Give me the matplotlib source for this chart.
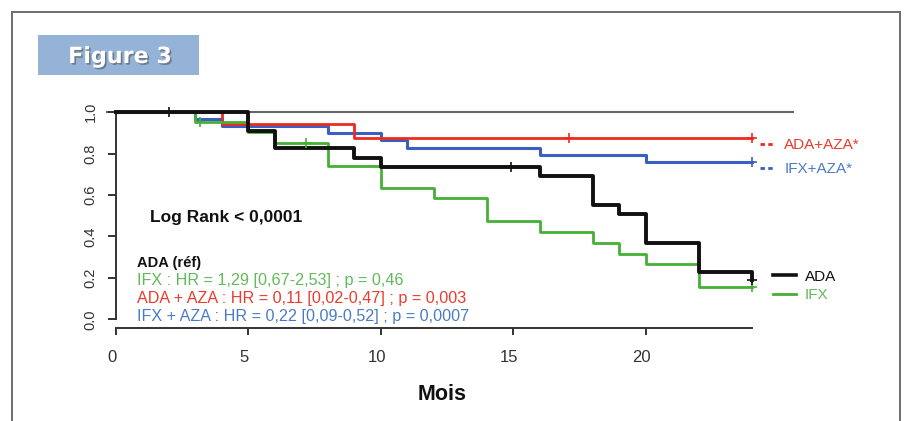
import matplotlib
matplotlib.use("Agg")
import matplotlib.pyplot as plt
import matplotlib.patheffects as pe
from matplotlib.lines import Line2D
from matplotlib.patches import Rectangle
from matplotlib.transforms import ScaledTranslation

plt.rcParams['font.family'] = ['Liberation Sans', 'DejaVu Sans']

# Kaplan-Meier curves (months, survival)
ada_t = [0, 5, 6, 9, 10, 16, 18, 19, 20, 22, 24]
ada_s = [1.0, 0.911, 0.828, 0.778, 0.737, 0.692, 0.552, 0.509, 0.367, 0.227, 0.19]
ada_cens_t = [2, 14.9, 24]
ada_cens_s = [1.0, 0.737, 0.19]

ifx_t = [0, 3, 5, 6, 8, 10, 12, 14, 16, 18, 19, 20, 22, 24]
ifx_s = [1.0, 0.955, 0.905, 0.853, 0.741, 0.636, 0.584, 0.475, 0.42, 0.37, 0.315, 0.267, 0.157, 0.157]
ifx_cens_t = [3.2, 7.2, 24]
ifx_cens_s = [0.955, 0.853, 0.157]

adaaza_t = [0, 4, 9, 24]
adaaza_s = [1.0, 0.943, 0.874, 0.874]
adaaza_cens_t = [17.1, 24]
adaaza_cens_s = [0.874, 0.874]

ifxaza_t = [0, 3, 4, 8, 10, 11, 16, 20, 24]
ifxaza_s = [1.0, 0.966, 0.934, 0.898, 0.866, 0.826, 0.794, 0.758, 0.758]
ifxaza_cens_t = [24]
ifxaza_cens_s = [0.758]

x_ticks = [0, 5, 10, 15, 20]
y_ticks = [0.0, 0.2, 0.4, 0.6, 0.8, 1.0]

hr_lines = ["IFX : HR = 1,29 [0,67-2,53] ; p = 0,46",
            "ADA + AZA : HR = 0,11 [0,02-0,47] ; p = 0,003",
            "IFX + AZA : HR = 0,22 [0,09-0,52] ; p = 0,0007"]

BLACK = '#111111'
GREEN = '#45b035'
RED = '#ee2b1f'
BLUE = '#3a5fc0'
GREEN_TXT = '#62b95a'
RED_TXT = '#ea3b2c'
BLUE_TXT = '#4a7cc6'

W, H = 907, 421
fig = plt.figure(figsize=(W / 100, H / 100), dpi=100)

# outer frame and "Figure 3" badge
fig.patches.append(Rectangle((12 / W, -0.1), (900 - 12) / W, 1.1 - 12 / H,
                             transform=fig.transFigure, fill=False,
                             ec='#6e6e6e', lw=1.4))
fig.patches.append(Rectangle((38 / W, 1 - 75 / H), 161 / W, 40 / H,
                             transform=fig.transFigure, fc='#95b3d7', ec='none'))
fig.text(120 / W, 1 - 57 / H, 'Figure 3', color='white', fontsize=16,
         fontweight='bold', family='DejaVu Sans', ha='center', va='center',
         path_effects=[pe.withSimplePatchShadow(offset=(1.2, -1.2),
                                                shadow_rgbFace='#555555', alpha=0.6)])

ax = fig.add_axes([100 / W, 1 - 335 / H, 710 / W, 235 / H])
ax.set_xlim(-0.59, 26.2)
ax.set_ylim(-0.076, 1.059)

# reference line at 1
ax.plot([-0.33, 25.56], [1, 1], color='#666666', lw=1.5, zorder=1)

curves = [
    (ifxaza_t, ifxaza_s, ifxaza_cens_t, ifxaza_cens_s, BLUE, 2.2),
    (adaaza_t, adaaza_s, adaaza_cens_t, adaaza_cens_s, RED, 2.0),
    (ifx_t, ifx_s, ifx_cens_t, ifx_cens_s, GREEN, 2.0),
    (ada_t, ada_s, ada_cens_t, ada_cens_s, BLACK, 2.8),
]
for t, s, ct, cs, c, lw in curves:
    ax.step(t, s, where='post', color=c, lw=lw, zorder=3)
    ax.plot(ct, cs, ls='none', marker='+', ms=7.5, mew=1.2, color=c, zorder=4,
            clip_on=False)

# R-style detached axes
for side in ['top', 'right']:
    ax.spines[side].set_visible(False)
ax.spines['left'].set_position(('data', 0))
ax.spines['left'].set_bounds(0, 1)
ax.spines['bottom'].set_position(('data', -0.042))
ax.spines['bottom'].set_bounds(0, 24)
for side in ['left', 'bottom']:
    ax.spines[side].set_color('#333333')
    ax.spines[side].set_linewidth(1.4)

ax.set_xticks(x_ticks)
ax.set_xticklabels([str(v) for v in x_ticks])
ax.set_yticks(y_ticks)
ax.set_yticklabels(['%.1f' % v for v in y_ticks], rotation=90, va='center')
ax.tick_params(axis='y', length=6, width=1.4, color='#333333', pad=7,
               labelsize=10.5, labelcolor='#333333')
ax.tick_params(axis='x', length=5, width=1.4, color='#333333', pad=11,
               labelsize=12, labelcolor='#333333')
for lab in ax.get_xticklabels():
    lab.set_transform(lab.get_transform() + ScaledTranslation(-0.04, 0, fig.dpi_scale_trans))

fig.text(442 / W, 1 - 395 / H, 'Mois', fontsize=15.5, fontweight='bold',
         ha='center', va='center', color=BLACK)

# annotations inside the plot
fig.text(150 / W, 1 - 218 / H, 'Log Rank < 0,0001', fontsize=12.5,
         fontweight='bold', va='center', color=BLACK)
fig.text(137 / W, 1 - 263 / H, 'ADA (réf)', fontsize=10.5, fontweight='bold',
         va='center', color=BLACK)
for i, (txt, col) in enumerate(zip(hr_lines, [GREEN_TXT, RED_TXT, BLUE_TXT])):
    fig.text(137 / W, 1 - (281 + 17.9 * i) / H, txt, fontsize=11.6,
             va='center', color=col)

# legends on the right
top_handles = [Line2D([], [], color=RED, lw=2, ls=(0, (1.6, 1.2))),
               Line2D([], [], color=BLUE, lw=2, ls=(0, (1.6, 1.2)))]
leg1 = fig.legend(top_handles, ['ADA+AZA*', 'IFX+AZA*'], loc='center left',
                  bbox_to_anchor=(760 / W, 1 - 157 / H), frameon=False,
                  fontsize=11, handlelength=0.85, handletextpad=0.75,
                  labelspacing=0.65, borderpad=0, borderaxespad=0)
for txt, col in zip(leg1.get_texts(), [RED_TXT, BLUE_TXT]):
    txt.set_color(col)

bot_handles = [Line2D([], [], color=BLACK, lw=2.6),
               Line2D([], [], color=GREEN, lw=2)]
leg2 = fig.legend(bot_handles, ['ADA', 'IFX'], loc='center left',
                  bbox_to_anchor=(773 / W, 1 - 286 / H), frameon=False,
                  fontsize=11, handlelength=1.5, handletextpad=0.6,
                  labelspacing=0.3, borderpad=0, borderaxespad=0)
for txt, col in zip(leg2.get_texts(), [BLACK, GREEN_TXT]):
    txt.set_color(col)

fig.savefig('out.png', dpi=100)
